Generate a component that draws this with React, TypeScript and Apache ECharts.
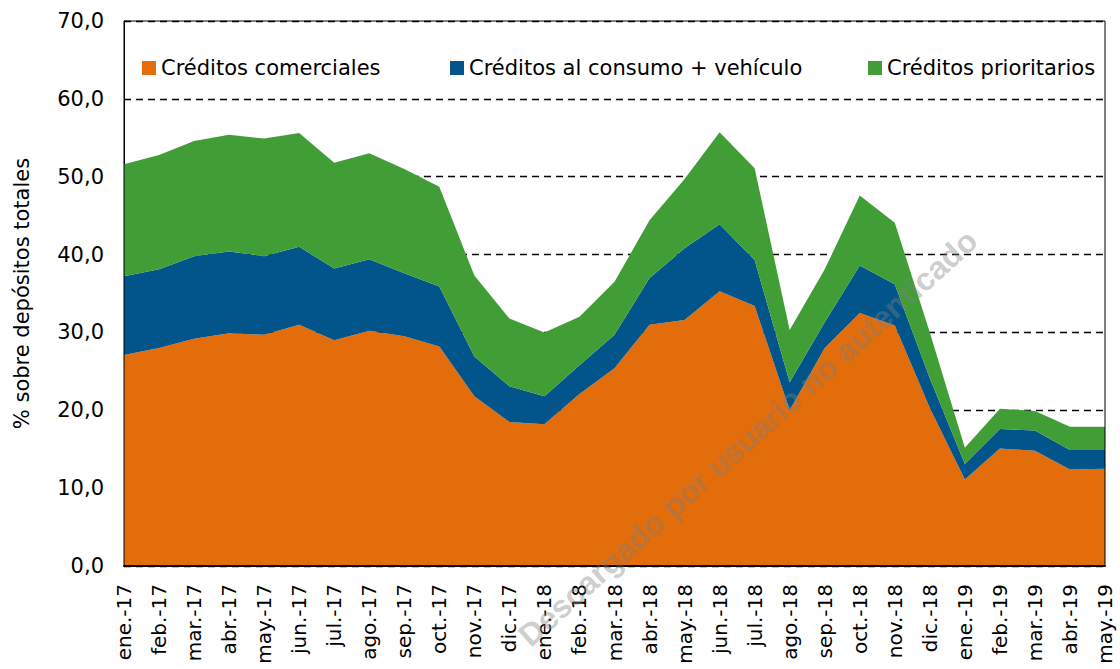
import React, { useEffect, useRef } from 'react';
import * as echarts from 'echarts';

const categories = [
  'ene.-17', 'feb.-17', 'mar.-17', 'abr.-17', 'may.-17', 'jun.-17', 'jul.-17', 'ago.-17', 'sep.-17', 'oct.-17', 'nov.-17', 'dic.-17',
  'ene.-18', 'feb.-18', 'mar.-18', 'abr.-18', 'may.-18', 'jun.-18', 'jul.-18', 'ago.-18', 'sep.-18', 'oct.-18', 'nov.-18', 'dic.-18',
  'ene.-19', 'feb.-19', 'mar.-19', 'abr.-19', 'may.-19',
];

const comerciales = [
  27.1, 28.0, 29.2, 29.9, 29.7, 31.0, 29.0, 30.2, 29.5, 28.2, 21.8, 18.5,
  18.2, 22.1, 25.4, 31.0, 31.6, 35.3, 33.4, 20.0, 28.0, 32.5, 30.9, 20.3,
  11.1, 15.1, 14.8, 12.4, 12.5,
];

const consumo = [
  10.1, 10.1, 10.6, 10.5, 10.1, 10.0, 9.2, 9.2, 8.1, 7.7, 5.1, 4.6,
  3.6, 3.7, 4.3, 6.0, 9.2, 8.6, 5.9, 3.6, 3.3, 6.1, 5.3, 3.8,
  2.0, 2.5, 2.6, 2.5, 2.4,
];

const prioritarios = [
  14.4, 14.7, 14.8, 15.0, 15.1, 14.6, 13.6, 13.6, 13.4, 12.8, 10.4, 8.7,
  8.2, 6.2, 6.8, 7.4, 8.9, 11.8, 11.8, 6.7, 6.8, 9.0, 7.9, 5.9,
  2.1, 2.6, 2.5, 3.0, 3.0,
];

const seriesNames = ['Créditos comerciales', 'Créditos al consumo + vehículo', 'Créditos prioritarios'];
const seriesColors = ['#E36C0B', '#02558A', '#419E37'];
const yAxisName = '% sobre depósitos totales';
const watermark = 'Descargado por usuario no autenticado';

const FONT = '"DejaVu Sans", "Liberation Sans", Arial, sans-serif';

export default function App() {
  const ref = useRef<HTMLDivElement>(null);

  useEffect(() => {
    if (!ref.current) return;
    const chart = echarts.init(ref.current, undefined, { renderer: 'svg' });
    const values = [comerciales, consumo, prioritarios];
    const legendLefts = [137, 445, 863];

    chart.setOption({
      animation: false,
      backgroundColor: '#ffffff',
      textStyle: { fontFamily: FONT },
      grid: {
        left: 124,
        right: 15,
        top: 21,
        bottom: 103,
        containLabel: false,
        outerBoundsMode: 'none',
        show: true,
        borderColor: '#000',
        borderWidth: 1,
        z: 10,
      },
      legend: seriesNames.map((n, i) => ({
        data: [n],
        left: legendLefts[i],
        top: 52,
        itemWidth: 14,
        itemHeight: 14,
        itemGap: 5,
        icon: 'rect',
        textStyle: { fontFamily: FONT, fontSize: 21, color: '#000', lineHeight: 22 },
      })),
      xAxis: {
        type: 'category',
        data: categories,
        boundaryGap: false,
        axisLine: { show: true, lineStyle: { color: '#000', width: 2 } },
        axisTick: { show: false },
        axisLabel: {
          rotate: 90,
          margin: 18,
          interval: 0,
          fontFamily: FONT,
          fontSize: 20,
          color: '#000',
        },
        splitLine: { show: false },
        z: 10,
      },
      yAxis: {
        type: 'value',
        min: 0,
        max: 70,
        interval: 10,
        name: yAxisName,
        nameLocation: 'middle',
        nameGap: 92,
        nameRotate: 90,
        nameTextStyle: { fontFamily: FONT, fontSize: 21, color: '#000' },
        axisLine: { show: true, lineStyle: { color: '#000', width: 1 } },
        axisTick: { show: false },
        axisLabel: {
          margin: 20,
          fontFamily: FONT,
          fontSize: 21,
          color: '#000',
          formatter: (v: number) => v.toFixed(1).replace('.', ','),
        },
        splitLine: { show: true, lineStyle: { color: '#000', type: [7, 5], width: 1.3 } },
      },
      series: seriesNames.map((n, i) => ({
        name: n,
        type: 'line',
        stack: 'total',
        data: values[i],
        symbol: 'none',
        lineStyle: { width: 0 },
        itemStyle: { color: seriesColors[i] },
        areaStyle: { color: seriesColors[i], opacity: 1 },
      })),
      graphic: [
        {
          type: 'text',
          x: 748,
          y: 438,
          rotation: (42 * Math.PI) / 180,
          z: 100,
          silent: true,
          style: {
            text: watermark,
            fontFamily: '"Liberation Sans", Arial, sans-serif',
            fontWeight: 'bold',
            fontSize: 32,
            fill: 'rgba(128,128,128,0.4)',
            align: 'center',
            verticalAlign: 'middle',
          },
        },
      ],
    });

    return () => chart.dispose();
  }, []);

  return (
    <div
      ref={ref}
      style={{ position: 'fixed', left: 0, top: 0, width: 1120, height: 669 }}
    />
  );
}
